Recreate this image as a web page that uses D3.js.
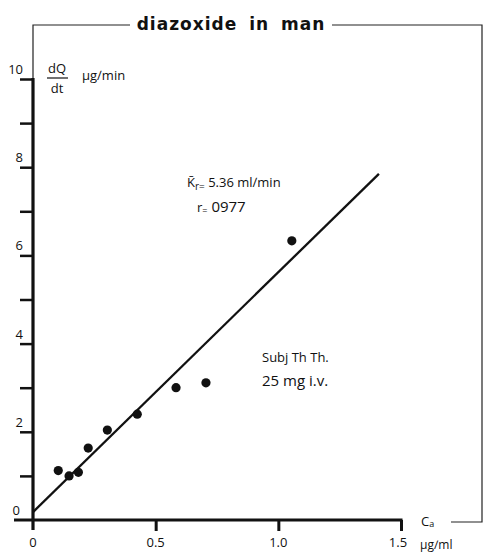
<!DOCTYPE html>
<html>
<head>
<meta charset="utf-8">
<script src="https://cdn.jsdelivr.net/npm/d3@7"></script>
<style>
  body { margin: 0; background: #fff; }
  svg { display: block; }
  text { font-family: "Open Sans", "DejaVu Sans", sans-serif; fill: #111; }
</style>
</head>
<body>
<svg width="485" height="556"></svg>
<script>
// values
var concData = [0.103, 0.147, 0.185, 0.225, 0.303, 0.425, 0.583, 0.705, 1.055];   // Ca, µg/ml
var rateData = [1.12, 1.00, 1.08, 1.63, 2.04, 2.40, 3.00, 3.11, 6.33];           // dQ/dt, µg/min
var fitX = [0, 1.41];
var fitY = [0.18, 7.85];
var yTicks = [1, 2, 3, 4, 5, 6, 7, 8, 9, 10];
var yLabels = [0, 2, 4, 6, 8, 10];
var xTicks = [0.5, 1.0, 1.5];
var xLabels = ["0", "0.5", "1.0", "1.5"];
var xLabelVals = [0, 0.5, 1.0, 1.5];

var svg = d3.select("svg");

var x = d3.scaleLinear().domain([0, 1.5]).range([33, 401]);
var y = d3.scaleLinear().domain([0, 10]).range([520, 79]);

// thin frame round the plot, broken by the title
svg.append("path")
    .attr("d", "M" + x(0) + "," + y(10) + "V25H130M332,25H482V522H451")
    .attr("fill", "none")
    .attr("stroke", "#222")
    .attr("stroke-width", 1.2);

svg.append("text")
    .attr("x", 231).attr("y", 30)
    .attr("text-anchor", "middle")
    .style("font-family", "'DejaVu Sans', sans-serif")
    .style("font-weight", "bold")
    .style("font-size", "17px")
    .style("letter-spacing", "1px")
    .style("word-spacing", "5px")
    .text("diazoxide in man");

// y axis
var yAxis = svg.append("g")
    .attr("transform", "translate(" + x(0) + ",0)")
    .call(d3.axisLeft(y).tickValues(yTicks).tickSize(13).tickFormat(""));
yAxis.select(".domain").remove();
yAxis.selectAll(".tick line").attr("stroke", "#111").attr("stroke-width", 2.5);

svg.append("line")
    .attr("x1", x(0)).attr("x2", x(0))
    .attr("y1", y(10) - 1).attr("y2", 530)
    .attr("stroke", "#111").attr("stroke-width", 3.2);

svg.selectAll(".ylab")
    .data(yLabels)
    .enter().append("text")
    .attr("class", "ylab")
    .attr("x", function (d) { return d === 0 ? x(0) - 13 : x(0) - 10; })
    .attr("y", function (d) { return y(d) - 5; })
    .attr("text-anchor", "end")
    .style("font-size", "13px")
    .text(function (d) { return d; });

// x axis
var xAxis = svg.append("g")
    .attr("transform", "translate(0," + y(0) + ")")
    .call(d3.axisBottom(x).tickValues(xTicks).tickSize(11).tickFormat(""));
xAxis.select(".domain").remove();
xAxis.selectAll(".tick line").attr("stroke", "#111").attr("stroke-width", 3);

svg.append("line")
    .attr("x1", 14).attr("x2", x(1.5) + 1.5)
    .attr("y1", y(0)).attr("y2", y(0))
    .attr("stroke", "#111").attr("stroke-width", 3.2);

svg.selectAll(".xlab")
    .data(xLabels)
    .enter().append("text")
    .attr("class", "xlab")
    .attr("x", function (d, i) { return x(xLabelVals[i]) - (i === 3 ? 3 : 0); })
    .attr("y", 547)
    .attr("text-anchor", "middle")
    .style("font-size", "13px")
    .text(function (d) { return d; });

// axis titles
var xt = svg.append("text").attr("x", 421).attr("y", 526).style("font-size", "13px");
xt.append("tspan").text("C");
xt.append("tspan").attr("dy", 1).style("font-size", "9px").text("a");
svg.append("text").attr("x", 420).attr("y", 549).style("font-size", "12px").text("\u00b5g\u2215ml");

svg.append("text").attr("x", 57).attr("y", 73).attr("text-anchor", "middle").style("font-size", "13px").text("dQ");
svg.append("line").attr("x1", 47).attr("x2", 68).attr("y1", 78).attr("y2", 78)
    .attr("stroke", "#111").attr("stroke-width", 1.2);
svg.append("text").attr("x", 57).attr("y", 93).attr("text-anchor", "middle").style("font-size", "13px").text("dt");
svg.append("text").attr("x", 82).attr("y", 80).style("font-size", "13px").text("\u00b5g\u2215min");

// regression line
var line = d3.line()
    .x(function (d) { return x(d[0]); })
    .y(function (d) { return y(d[1]); });
svg.append("path")
    .datum(d3.zip(fitX, fitY))
    .attr("d", line)
    .attr("fill", "none")
    .attr("stroke", "#111")
    .attr("stroke-width", 2.3);

// measured points
svg.selectAll(".dot")
    .data(d3.zip(concData, rateData))
    .enter().append("circle")
    .attr("class", "dot")
    .attr("cx", function (d) { return x(d[0]); })
    .attr("cy", function (d) { return y(d[1]); })
    .attr("r", 4.6)
    .attr("fill", "#111");

// annotations
var k = svg.append("text").attr("x", 187).attr("y", 187).style("font-size", "13px");
k.append("tspan").text("K\u0304");
k.append("tspan").attr("dy", 3).style("font-size", "10px").text("r=");
k.append("tspan").attr("dy", -3).text(" 5.36 ml\u2215min");

var r = svg.append("text").attr("x", 197).attr("y", 212).style("font-size", "15px");
r.append("tspan").style("font-size", "13px").text("r");
r.append("tspan").attr("dy", 2).style("font-size", "9px").text("=");
r.append("tspan").attr("dy", -2).text(" 0977");

svg.append("text").attr("x", 262).attr("y", 362).style("font-size", "13px").text("Subj  Th Th.");
svg.append("text").attr("x", 262).attr("y", 386).style("font-size", "15px").text("25 mg i.v.");
</script>
</body>
</html>
